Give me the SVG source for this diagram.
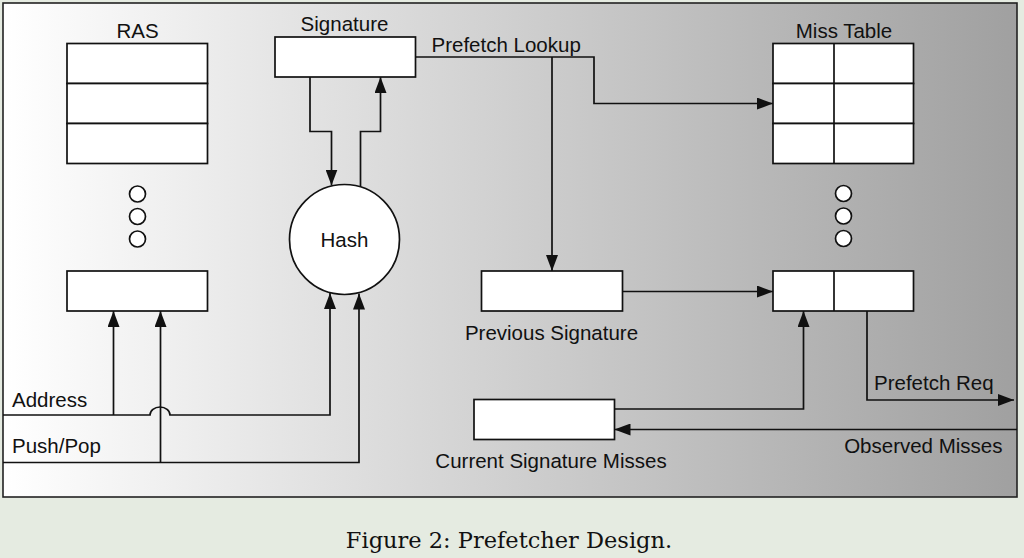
<svg xmlns="http://www.w3.org/2000/svg" width="1024" height="558" viewBox="0 0 1024 558">
<style>
.lbl{font-family:"Liberation Sans",Arial,sans-serif;font-size:20.5px;fill:#111}
.box{fill:#fff;stroke:#111;stroke-width:1.7}
.ln{fill:none;stroke:#111;stroke-width:1.7}
.arr{fill:none;stroke:#111;stroke-width:1.7;marker-end:url(#ah)}
.dot{fill:#fff;stroke:#111;stroke-width:1.7}
</style>
<defs>
<linearGradient id="bg" x1="0" y1="0" x2="1" y2="0">
<stop offset="0" stop-color="#ffffff"/>
<stop offset="1" stop-color="#a0a0a0"/>
</linearGradient>
<marker id="ah" markerUnits="userSpaceOnUse" markerWidth="16" markerHeight="12" refX="16" refY="6" orient="auto" viewBox="0 0 16 12">
<path d="M0,0 L16,6 L0,12 z" fill="#111"/>
</marker>
</defs>
<rect x="0" y="0" width="1024" height="558" fill="#e5ebe1"/>
<rect x="3" y="3" width="1014" height="494" fill="url(#bg)" stroke="#222" stroke-width="1.6"/>

<g id="ras">
<text class="lbl" x="137.5" y="37.5" text-anchor="middle">RAS</text>
<rect class="box" x="67" y="43.5" width="140.5" height="40"/>
<rect class="box" x="67" y="83.5" width="140.5" height="40"/>
<rect class="box" x="67" y="123.5" width="140.5" height="40"/>
<circle class="dot" cx="137.5" cy="194" r="8"/>
<circle class="dot" cx="137.5" cy="216.5" r="8"/>
<circle class="dot" cx="137.5" cy="239" r="8"/>
</g>
<g id="ras-entry">
<rect class="box" x="67" y="271" width="140.5" height="40"/>
</g>
<g id="signature">
<text class="lbl" x="344.5" y="30.5" text-anchor="middle">Signature</text>
<rect class="box" x="275" y="37" width="140.5" height="40"/>
</g>
<g id="hash">
<circle class="box" cx="344.5" cy="239.5" r="55"/>
<text class="lbl" x="344.5" y="246.5" text-anchor="middle">Hash</text>
</g>
<g id="miss-table">
<text class="lbl" x="844" y="37.5" text-anchor="middle">Miss Table</text>
<rect class="box" x="773" y="43.5" width="140.5" height="40"/>
<rect class="box" x="773" y="83.5" width="140.5" height="40"/>
<rect class="box" x="773" y="123.5" width="140.5" height="40"/>
<line class="ln" x1="834" y1="43.5" x2="834" y2="163.5"/>
<circle class="dot" cx="843.5" cy="193.5" r="8"/>
<circle class="dot" cx="843.5" cy="216" r="8"/>
<circle class="dot" cx="843.5" cy="238.5" r="8"/>
</g>
<g id="miss-entry">
<rect class="box" x="773" y="271" width="140.5" height="40"/>
<line class="ln" x1="834" y1="271" x2="834" y2="311"/>
</g>
<g id="previous-signature">
<rect class="box" x="481.5" y="271" width="141" height="40"/>
<text class="lbl" x="551.5" y="340" text-anchor="middle">Previous Signature</text>
</g>
<g id="current-signature-misses">
<rect class="box" x="474" y="399.5" width="140.5" height="40"/>
<text class="lbl" x="551" y="468" text-anchor="middle">Current Signature Misses</text>
</g>

<g id="connectors">
<polyline class="arr" points="415.5,57 594,57 594,103.5 773,103.5"/>
<polyline class="arr" points="552,57 552,271"/>
<polyline class="arr" points="310,77 310,131.5 331.5,131.5 331.5,185.5"/>
<polyline class="arr" points="360.5,186.5 360.5,131.5 380.5,131.5 380.5,77"/>
<path class="arr" d="M3,415 H150 A10,8 0 0 1 170,415 H330 V293"/>
<polyline class="arr" points="113.5,415 113.5,311"/>
<polyline class="arr" points="3,462.5 359,462.5 359,293.5"/>
<polyline class="arr" points="160.5,462.5 160.5,311"/>
<polyline class="arr" points="622.5,291.5 773,291.5"/>
<polyline class="arr" points="614.5,409 803.5,409 803.5,311"/>
<polyline class="arr" points="1017,429.5 614.5,429.5"/>
<polyline class="arr" points="867,311 867,400 1014,400"/>
<text class="lbl" x="431.5" y="51.5">Prefetch Lookup</text>
<text class="lbl" x="12" y="406.5">Address</text>
<text class="lbl" x="12" y="453">Push/Pop</text>
<text class="lbl" x="874" y="390">Prefetch Req</text>
<text class="lbl" x="1002.5" y="453" text-anchor="end">Observed Misses</text>
</g>
<text x="509" y="547.5" text-anchor="middle" font-family="DejaVu Serif, 'Liberation Serif', serif" font-size="22.5" fill="#111">Figure 2: Prefetcher Design.</text>
</svg>
